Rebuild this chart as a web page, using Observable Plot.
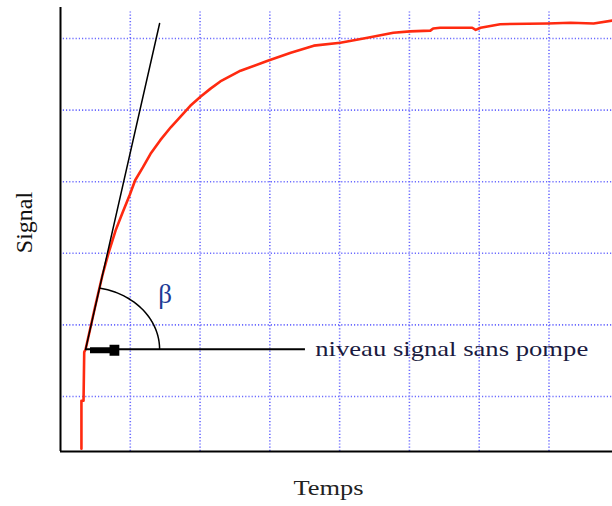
<!DOCTYPE html>
<html><head><meta charset="utf-8">
<script src="https://cdn.jsdelivr.net/npm/d3@7"></script>
<script src="https://cdn.jsdelivr.net/npm/@observablehq/plot@0.6"></script>
<style>body{margin:0;background:#fff}</style>
</head><body><div id="chart"></div>
<script>
// Red measured signal (Temps, Signal) in grid units
const signalT = [0.30,0.30,0.33,0.34,0.36,0.50,0.60,0.69,0.79,0.89,0.99,1.07,1.18,1.29,1.43,1.58,1.72,1.86,2.01,2.15,2.29,2.58,2.97,3.30,3.63,4.01,4.40,4.77,5.01,5.30,5.34,5.44,5.90,5.95,6.02,6.30,6.98,7.31,7.64,7.91];
const signalV = [0.27,0.94,0.94,1.62,1.66,2.27,2.69,3.01,3.32,3.57,3.81,4.02,4.20,4.39,4.58,4.76,4.91,5.06,5.19,5.30,5.40,5.55,5.69,5.80,5.90,5.94,6.01,6.08,6.10,6.11,6.14,6.15,6.15,6.12,6.15,6.20,6.21,6.22,6.21,6.25];
// Tangent at origin of the rise
const tangentT = [0.36,1.42];
const tangentV = [1.66,6.21];
// "niveau signal sans pompe" level line
const levelT = [0.36,3.51];
const levelV = 1.66;
// arrow pieces
const arrowBar = [0.43,0.73];
const arrowHead = [0.71,0.85];
// angle arc (centre, radii, end angle in degrees)
const arcCentre = [0.36,1.66];
const arcRadii = [1.06,0.87];
const arcEnd = 78.5;
const xGrid = [1,2,3,4,5,6,7];
const yGrid = [1,2,3,4,5,6];
const xDomain = [0,7.91];
const yDomain = [0.232,6.433];
const labelPos = [3.65,1.66];
const betaPos = [1.50,2.43];

const signal = signalT.map((t,i)=>({t, v:signalV[i]}));
const tangent = tangentT.map((t,i)=>({t, v:tangentV[i]}));
const arc = d3.range(0, arcEnd + 0.01, arcEnd/40).map(a=>({
  t: arcCentre[0] + arcRadii[0]*Math.cos(a*Math.PI/180),
  v: arcCentre[1] + arcRadii[1]*Math.sin(a*Math.PI/180)
}));

const serif = "Liberation Serif, Times New Roman, Times, serif";
const gridColor = "#6a6aff";
const plot = Plot.plot({
  width: 612, height: 506,
  marginLeft: 60, marginRight: 0, marginTop: 7, marginBottom: 55,
  x: {domain: xDomain, axis: null},
  y: {domain: yDomain, axis: null},
  style: {fontFamily: serif, background: "#fff"},
  marks: [
    Plot.ruleX(xGrid, {y1: yDomain[0], y2: 6.39, stroke: gridColor, strokeWidth: 1.6, strokeDasharray: "1.2,2"}),
    Plot.ruleY(yGrid, {x1: 0.04, x2: xDomain[1], stroke: gridColor, strokeWidth: 1.6, strokeDasharray: "1.2,2"}),
    Plot.ruleX([0], {stroke: "#000", strokeWidth: 2}),
    Plot.ruleY([yDomain[0]], {stroke: "#000", strokeWidth: 2}),
    Plot.line(signal, {x: "t", y: "v", stroke: "#ff2a10", strokeWidth: 2.6}),
    Plot.line(tangent, {x: "t", y: "v", stroke: "#000", strokeWidth: 1.5}),
    Plot.ruleY([levelV], {x1: levelT[0], x2: levelT[1], stroke: "#000", strokeWidth: 1.8}),
    Plot.ruleY([levelV], {x1: arrowBar[0], x2: arrowBar[1], stroke: "#000", strokeWidth: 6, dy: 1}),
    Plot.ruleY([levelV], {x1: arrowHead[0], x2: arrowHead[1], stroke: "#000", strokeWidth: 11, dy: 1}),
    Plot.line(arc, {x: "t", y: "v", stroke: "#000", strokeWidth: 1.5}),
    Plot.text(["niveau signal sans pompe"], {x: labelPos[0], y: labelPos[1], textAnchor: "start", fontSize: 22, fontFamily: serif, fill: "#1a1a40"}),
    Plot.text(["β"], {x: betaPos[0], y: betaPos[1], fontSize: 27, fontFamily: serif, fill: "#1d3c96"}),
    Plot.text(["Temps"], {frameAnchor: "bottom", textAnchor: "middle", dx: -8, dy: 43, fontSize: 22, fontFamily: serif, fill: "#222"}),
    Plot.text(["Signal"], {frameAnchor: "left", textAnchor: "middle", dx: -36, dy: -7, rotate: -90, fontSize: 24, fontFamily: serif, fill: "#111"})
  ]
});
document.getElementById("chart").appendChild(plot);
// stretch texts horizontally as in the reference
plot.querySelectorAll("text").forEach(el => {
  const s = el.textContent;
  if (s === "niveau signal sans pompe") { el.setAttribute("textLength", 273); el.setAttribute("lengthAdjust", "spacingAndGlyphs"); }
  if (s === "Temps") { el.setAttribute("textLength", 70); el.setAttribute("lengthAdjust", "spacingAndGlyphs"); }
});
</script>
</body></html>
